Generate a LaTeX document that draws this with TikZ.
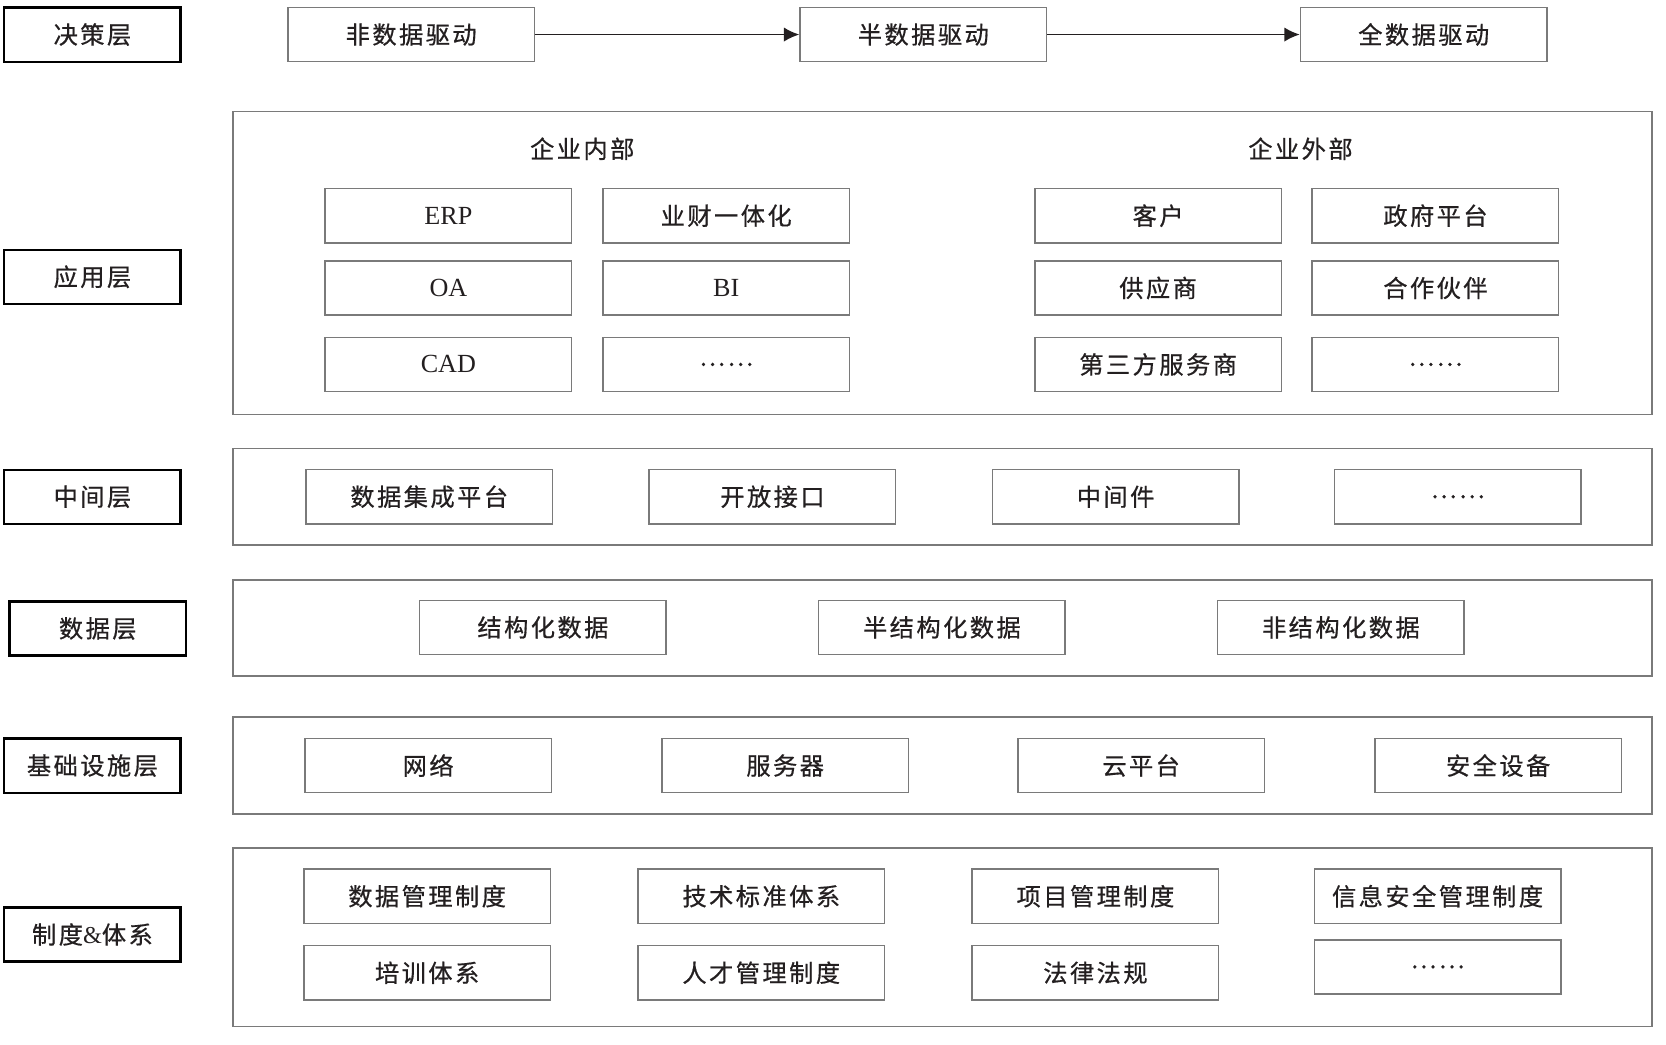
\documentclass[tikz,border=0pt]{standalone}
\usepackage{fontspec}
\usetikzlibrary{arrows.meta}
\setmainfont{Liberation Serif}
\newfontfamily\cjk{Noto Sans CJK SC}[LetterSpace=10,FakeBold=0.6]
\definecolor{frameGray}{HTML}{7A7A7A}
\definecolor{textGray}{HTML}{231F20}

\begin{document}
\begin{tikzpicture}
[x=0.02cm,y=-0.02cm,
  labelDecorate/.style={shape=rectangle,draw=black,line width=1.2pt,
    minimum width=3.32cm,minimum height=1.02cm,inner sep=0pt,
    font=\cjk\fontsize{13}{15}\selectfont,text=textGray},
  itemDecorate/.style={shape=rectangle,draw=frameGray,line width=0.8pt,
    minimum width=4.64cm,minimum height=1.02cm,inner sep=0pt,
    font=\cjk\fontsize{13}{15}\selectfont,text=textGray},
  headDecorate/.style={inner sep=0pt,font=\cjk\fontsize{13}{15}\selectfont,text=textGray},
  frameDecorate/.style={shape=rectangle,draw=frameGray,line width=0.8pt,
    minimum width=26.72cm,inner sep=0pt},
  lineDecorate/.style={-{Latex[length=2.9mm,width=2.7mm]},line width=1pt,draw=textGray}]
\useasboundingbox (0,0) rectangle (1568,982.6);
%% layer names
\foreach \nodename/\x/\y/\name in {
  decide/87/32.5/决策层, apply/87/260.5/应用层, middle/87/467.5/中间层,
  data/92/591.5/数据层, base/87/720.5/基础设施层, rule/87/879.5/制度{\rmfamily\&}体系}
{
  \node (\nodename) at (\x,\y) [labelDecorate] {\name};
}
%% layer frames
\foreach \nodename/\y/\h in {
  applyFrame/247.5/5.7cm, middleFrame/467.5/1.82cm, dataFrame/591/1.8cm,
  baseFrame/720.5/1.82cm, ruleFrame/882/3.36cm}
{
  \node (\nodename) at (887,\y) [frameDecorate,minimum height=\h] {};
}
%% decision stages
\foreach \nodename/\x/\name in {
  stage1/387/非数据驱动, stage2/869/半数据驱动, stage3/1340/全数据驱动}
{
  \node (\nodename) at (\x,32.5) [itemDecorate] {\name};
}
%% application layer
\node (inside) at (548,140) [headDecorate] {企业内部};
\node (outside) at (1224,140) [headDecorate] {企业外部};
\foreach \nodename/\x/\y/\name in {
  erp/422/203/{\rmfamily\fontsize{14}{16}\selectfont ERP}, finance/683.5/203/业财一体化,
  oa/422/271/{\rmfamily\fontsize{14}{16}\selectfont OA}, bi/683.5/271/{\rmfamily\fontsize{14}{16}\selectfont BI},
  cad/422/343/{\rmfamily\fontsize{14}{16}\selectfont CAD}, inMore/683.5/343/……,
  customer/1090/203/客户, government/1351/203/政府平台,
  supplier/1090/271/供应商, partner/1351/271/合作伙伴,
  service/1090/343/第三方服务商, outMore/1351/343/……}
{
  \node (\nodename) at (\x,\y) [itemDecorate] {\name};
}
%% middle layer
\foreach \nodename/\x/\name in {
  integrate/404/数据集成平台, interface/727/开放接口,
  middleware/1050/中间件, midMore/1372/……}
{
  \node (\nodename) at (\x,467.5) [itemDecorate] {\name};
}
%% data layer
\foreach \nodename/\x/\name in {
  structured/511/结构化数据, semi/886.5/半结构化数据, unstructured/1262/非结构化数据}
{
  \node (\nodename) at (\x,590.5) [itemDecorate] {\name};
}
%% infrastructure layer
\foreach \nodename/\x/\name in {
  network/403/网络, server/739/服务器, cloud/1074/云平台, security/1410/安全设备}
{
  \node (\nodename) at (\x,720.5) [itemDecorate] {\name};
}
%% rules and systems
\foreach \nodename/\x/\y/\name in {
  dataRule/402/843.5/数据管理制度, techRule/716.5/843.5/技术标准体系,
  projectRule/1031/843.5/项目管理制度, infoRule/1353/843.5/信息安全管理制度,
  training/402/915.5/培训体系, talent/716.5/915.5/人才管理制度,
  law/1031/915.5/法律法规, ruleMore/1353/910/……}
{
  \node (\nodename) at (\x,\y) [itemDecorate] {\name};
}
%% stage arrows
\path
\foreach \startnode/\endnode in {stage1/stage2, stage2/stage3}
{
  (\startnode) edge[lineDecorate] (\endnode)
};
\end{tikzpicture}
\end{document}
